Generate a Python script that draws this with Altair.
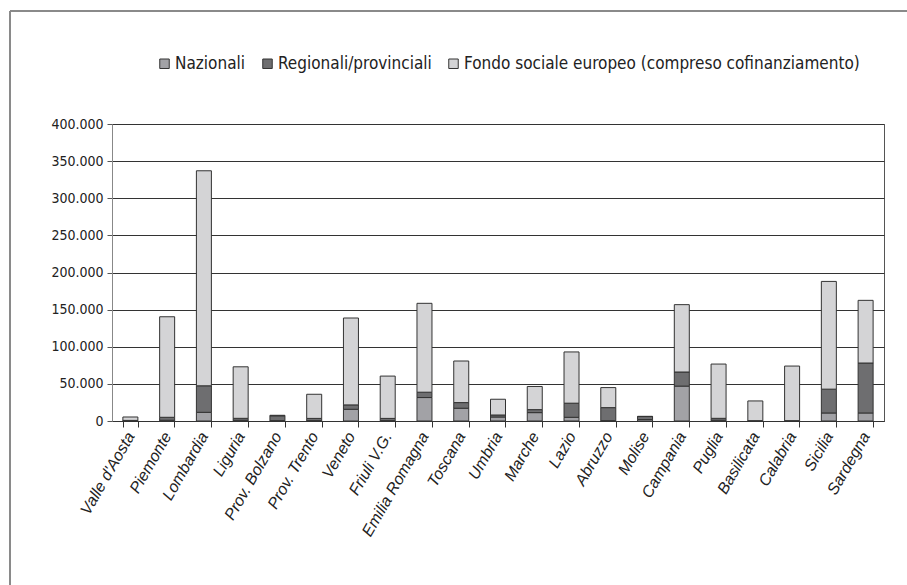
import altair as alt
import pandas as pd

regions = ["Valle d'Aosta", "Piemonte", "Lombardia", "Liguria", "Prov. Bolzano",
           "Prov. Trento", "Veneto", "Friuli V.G.", "Emilia Romagna", "Toscana",
           "Umbria", "Marche", "Lazio", "Abruzzo", "Molise", "Campania", "Puglia",
           "Basilicata", "Calabria", "Sicilia", "Sardegna"]
series = ["Nazionali", "Regionali/provinciali",
          "Fondo sociale europeo (compreso cofinanziamento)"]
nazionali = [300, 1000, 11700, 1000, 500, 500, 15800, 500, 31600, 17200, 5400,
             11300, 5000, 500, 2000, 47000, 1000, 500, 500, 10800, 10800]
regionali = [500, 4000, 35700, 2600, 6500, 3000, 5900, 3000, 7200, 7600, 2700,
             4000, 19000, 17500, 4000, 19000, 2600, 0, 0, 32100, 67300]
fse = [4600, 135400, 289600, 69400, 700, 32500, 117000, 57000, 119700, 56000,
       21200, 31200, 69000, 27000, 300, 90700, 73100, 26500, 73500, 145100, 84400]
colors = ["#a2a2a6", "#6e6e70", "#d4d4d6"]
y_ticks = [0, 50000, 100000, 150000, 200000, 250000, 300000, 350000, 400000]

rows = []
for i, r in enumerate(regions):
    for k, vals in enumerate([nazionali, regionali, fse]):
        rows.append({"Regione": r, "Serie": series[k], "idx": k, "Valore": vals[i]})
df = pd.DataFrame(rows)

FONT = "DejaVu Sans Condensed"

bars = alt.Chart(df).mark_bar(size=15, stroke="#333333", strokeWidth=1).encode(
    x=alt.X("Regione:N", sort=regions, title=None,
            scale=alt.Scale(paddingInner=0.6, paddingOuter=0.3),
            axis=alt.Axis(tickBand="extent", labelAngle=300, labelAlign="right",
                          labelBaseline="middle", labelFontStyle="italic",
                          labelFontSize=16, labelPadding=6, tickSize=6,
                          tickColor="#333333", domainColor="#333333",
                          labelColor="#222222",
                          labelFont="Liberation Sans",
                          labelLimit=0)),
    y=alt.Y("Valore:Q", stack="zero", title=None,
            scale=alt.Scale(domain=[0, 400000], nice=False),
            axis=alt.Axis(values=y_ticks, labelExpr="replace(format(datum.value, ','), ',', '.')",
                          grid=True, gridColor="#333333", gridWidth=1,
                          domainColor="#888888", tickColor="#555555", tickSize=5,
                          labelFontSize=14, labelPadding=4, labelColor="#222222",
                          labelFont=FONT)),
    color=alt.Color("Serie:N", sort=series,
                    scale=alt.Scale(domain=series, range=colors),
                    legend=alt.Legend(title=None, orient="none", legendX=44, legendY=-69,
                                      direction="horizontal", symbolType="square",
                                      symbolSize=90, symbolStrokeColor="#333333",
                                      symbolStrokeWidth=1, labelFontSize=17,
                                      labelFont=FONT, labelColor="#222222",
                                      columnPadding=13, symbolOffset=0,
                                      labelOffset=2, labelLimit=0)),
    order=alt.Order("idx:Q", sort="ascending"),
)

frame_data = alt.Data(values=[{"a": 1}])
top_rule = alt.Chart(frame_data).mark_rule(color="#8a8a8a", strokeWidth=2, clip=False).encode(
    x=alt.value(-102), x2=alt.value(800), y=alt.value(-113))
left_rule = alt.Chart(frame_data).mark_rule(color="#8a8a8a", strokeWidth=2, clip=False).encode(
    x=alt.value(-102), y=alt.value(-113), y2=alt.value(470))

chart = alt.layer(bars, top_rule, left_rule).properties(
    width=772, height=297,
    autosize=alt.AutoSizeParams(type="none"),
    padding={"left": 112, "top": 124, "right": 23, "bottom": 164},
    background="white",
).configure_view(stroke="#555555", strokeWidth=1)

chart.save("out.html", embed_options={"renderer": "svg", "actions": False})
